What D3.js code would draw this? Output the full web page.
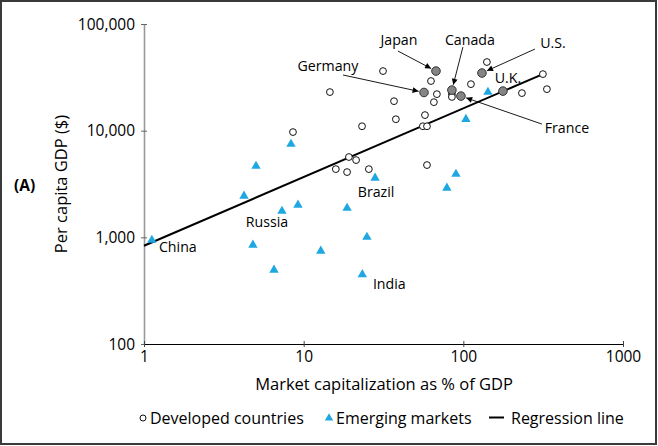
<!DOCTYPE html>
<html><head><meta charset="utf-8">
<script src="https://cdn.jsdelivr.net/npm/d3@7"></script>
<style>
html,body{margin:0;padding:0;background:#fff;}
svg{display:block;}
text{font-family:"Open Sans","Noto Sans",sans-serif;fill:#000;}
</style></head>
<body>
<svg id="c" width="658" height="446"></svg>
<script>
// ---- data ----
const devX = [14.6, 31.4, 36.8, 62.7, 68.3, 65.4, 57.5, 37.8, 23.2, 8.57, 55.8, 59.2, 19.2, 21.3, 15.9, 18.7, 25.6, 59.2, 84.8, 84.8, 111.6, 140.5, 232.8, 333.8, 315];
const devY = [23000, 36200, 18900, 29200, 22000, 18500, 14000, 12800, 11000, 9700, 11000, 11000, 5660, 5300, 4360, 4090, 4360, 4760, 22000, 20700, 27300, 44000, 22500, 24500, 33900];
const keyNames = ["Japan", "Germany", "Canada", "France", "U.S.", "U.K."];
const keyX = [67.4, 56.7, 84.8, 96.6, 130.8, 177];
const keyY = [36200, 22800, 24000, 21100, 34700, 23500];
const emX = [1.12, 5.03, 4.23, 4.81, 8.33, 7.31, 9.21, 6.52, 12.8, 18.7, 28.0, 24.9, 23.3, 78.9, 89.9, 103.8, 142.6];
const emY = [943, 4660, 2440, 847, 7480, 1760, 2010, 494, 744, 1880, 3600, 1006, 448, 2900, 3920, 12800, 23000];
const emNames = ["China", "", "", "", "", "Russia", "", "", "", "", "Brazil", "", "India", "", "", "", ""];
const regX = [1, 315];
const regY = [834, 33900];
const xTicks = [1, 10, 100, 1000];
const yTicks = [100, 1000, 10000, 100000];
const yTickLabels = ["100", "1,000", "10,000", "100,000"];

// ---- label styling (offsets in px from the point) ----
const keyLabelStyle = {
  "Japan":   {dx: -37, dy: -26, arrow: [-38, -20]},
  "Germany": {dx: -96, dy: -21, arrow: [-81, -17.5]},
  "Canada":  {dx: 18,  dy: -45, arrow: [11, -43]},
  "France":  {dx: 106, dy: 37,  arrow: [81, 28]},
  "U.S.":    {dx: 71,  dy: -25, arrow: [53, -24]},
  "U.K.":    {dx: 5,   dy: -8,  arrow: null}
};
const emLabelStyle = {
  "China":  {dx: 26, dy: 12},
  "Russia": {dx: -15, dy: 16},
  "Brazil": {dx: 1, dy: 19},
  "India":  {dx: 27, dy: 14.5}
};
const FONT = "'Open Sans','Noto Sans',sans-serif";

const svg = d3.select("#c");
// frame
svg.append("rect").attr("x",1).attr("y",1).attr("width",655).attr("height",443)
  .attr("fill","none").attr("stroke","#3a3a3a").attr("stroke-width",2);

const x = d3.scaleLog().domain([1,1000]).range([144,623]);
const y = d3.scaleLog().domain([100,100000]).range([344,24]);

// arrow marker
svg.append("defs").append("marker").attr("id","ah")
  .attr("viewBox","0 0 10 10").attr("refX",10).attr("refY",5)
  .attr("markerWidth",7).attr("markerHeight",6).attr("markerUnits","userSpaceOnUse")
  .attr("orient","auto")
  .append("path").attr("d","M0,0L10,5L0,10Z").attr("fill","#000");

// y axis
const yAxis = d3.axisLeft(y).tickValues(yTicks).tickFormat((d,i)=>yTickLabels[i]).tickSizeInner(0).tickSizeOuter(0).tickPadding(9);
const gy = svg.append("g").attr("transform","translate(144,0)").call(yAxis);
gy.select(".domain").attr("stroke","#999").attr("stroke-width",1.6);
gy.selectAll(".tick").append("line").attr("x1",-3).attr("x2",3).attr("stroke","#666");
gy.selectAll("text").style("font-size","15.5px").style("font-family",FONT).attr("fill","#000").attr("dy","0.34em");

// x axis
const xAxis = d3.axisBottom(x).tickValues(xTicks).tickFormat(d3.format("d")).tickSizeInner(0).tickSizeOuter(0).tickPadding(7);
const gx = svg.append("g").attr("transform","translate(0,344)").call(xAxis);
gx.select(".domain").attr("stroke","#000").attr("stroke-width",1.2);
gx.selectAll(".tick").append("line").attr("y1",-3).attr("y2",3).attr("stroke","#444");
gx.selectAll("text").style("font-size","15.5px").style("font-family",FONT).attr("fill","#000");

// axis titles
svg.append("text").attr("transform","translate(67,184) rotate(-90)").attr("text-anchor","middle")
  .style("font-size","16.5px").text("Per capita GDP ($)");
svg.append("text").attr("x",384).attr("y",390).attr("text-anchor","middle")
  .style("font-size","16.5px").text("Market capitalization as % of GDP");
svg.append("text").attr("x",14).attr("y",191).style("font-size","15.5px").style("font-weight","bold").text("(A)");

// regression line
svg.append("line").attr("x1",x(regX[0])).attr("y1",y(regY[0])).attr("x2",x(regX[1])).attr("y2",y(regY[1]))
  .attr("stroke","#000").attr("stroke-width",2);

// emerging markets
const tri = d3.symbol().type(d3.symbolTriangle).size(38);
svg.append("g").selectAll("path").data(emX.map((v,i)=>[v,emY[i]])).join("path")
  .attr("d",tri).attr("transform",d=>`translate(${x(d[0])},${y(d[1])})`).attr("fill","#1ea7e1");

// developed
svg.append("g").selectAll("circle").data(devX.map((v,i)=>[v,devY[i]])).join("circle")
  .attr("cx",d=>x(d[0])).attr("cy",d=>y(d[1])).attr("r",3.4)
  .attr("fill","#fff").attr("stroke","#111").attr("stroke-width",1);

// key developed
svg.append("g").selectAll("circle").data(keyX.map((v,i)=>[v,keyY[i]])).join("circle")
  .attr("cx",d=>x(d[0])).attr("cy",d=>y(d[1])).attr("r",4.3)
  .attr("fill","#858585").attr("stroke","#333").attr("stroke-width",1);

// key labels and arrows
keyNames.forEach((n,i)=>{
  const px = x(keyX[i]), py = y(keyY[i]), s = keyLabelStyle[n];
  svg.append("text").attr("x",px+s.dx).attr("y",py+s.dy).attr("text-anchor","middle")
    .style("font-size","14.2px").text(n);
  if (s.arrow) {
    const sx = px+s.arrow[0], sy = py+s.arrow[1];
    const L = Math.hypot(px-sx, py-sy), k = (L-5.5)/L;
    svg.append("line").attr("x1",sx).attr("y1",sy).attr("x2",sx+(px-sx)*k).attr("y2",sy+(py-sy)*k)
      .attr("stroke","#000").attr("stroke-width",0.9).attr("marker-end","url(#ah)");
  }
});
emNames.forEach((n,i)=>{
  if (!n) return;
  const s = emLabelStyle[n];
  svg.append("text").attr("x",x(emX[i])+s.dx).attr("y",y(emY[i])+s.dy).attr("text-anchor","middle")
    .style("font-size","14.2px").text(n);
});

// legend
const lg = svg.append("g").style("font-size","16px");
lg.append("circle").attr("cx",143).attr("cy",418).attr("r",3).attr("fill","#fff").attr("stroke","#111");
lg.append("text").attr("x",150).attr("y",424).text("Developed countries");
lg.append("path").attr("d",d3.symbol().type(d3.symbolTriangle).size(30)).attr("transform","translate(329,418)").attr("fill","#1ea7e1");
lg.append("text").attr("x",336).attr("y",424).text("Emerging markets");
lg.append("line").attr("x1",489).attr("x2",504).attr("y1",417.5).attr("y2",417.5).attr("stroke","#000").attr("stroke-width",2);
lg.append("text").attr("x",511).attr("y",424).text("Regression line");
</script>
</body></html>
